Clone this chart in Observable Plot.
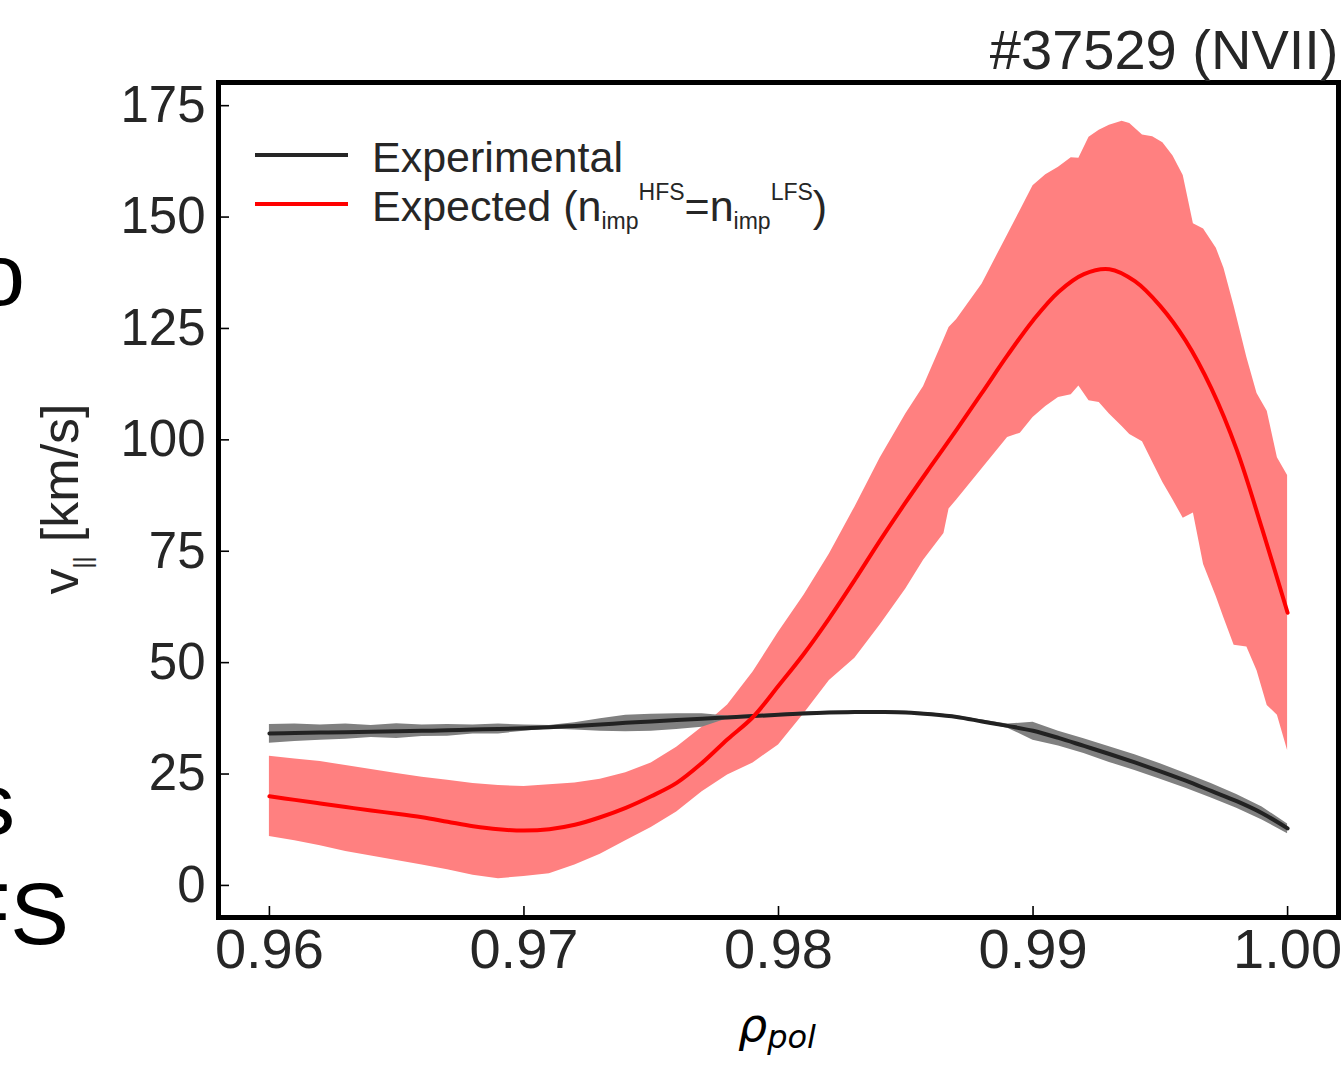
<!DOCTYPE html>
<html>
<head>
<meta charset="utf-8">
<script src="https://cdn.jsdelivr.net/npm/d3@7"></script>
<script src="https://cdn.jsdelivr.net/npm/@observablehq/plot@0.6"></script>
<style>
  html, body { margin: 0; padding: 0; background: #fff; overflow: hidden; }
  #chart { position: relative; width: 1343px; height: 1070px; overflow: hidden; }
</style>
</head>
<body>
<div id="chart"></div>
<script>
// ---------------- DATA ----------------
const titleText = "#37529 (NVII)";
const legendLabels = ["Experimental", "Expected"];
const xTicks = [0.96, 0.97, 0.98, 0.99, 1.00];
const yTicks = [0, 25, 50, 75, 100, 125, 150, 175];

// rho_pol grid for the mean curves
const rho = [0.960,0.961,0.962,0.963,0.964,0.965,0.966,0.967,0.968,0.969,
             0.970,0.971,0.972,0.973,0.974,0.975,0.976,0.977,0.978,0.979,
             0.980,0.981,0.982,0.983,0.984,0.985,0.986,0.987,0.988,0.989,
             0.990,0.991,0.992,0.993,0.994,0.995,0.996,0.997,0.998,0.999,1.000];

// Expected (n_imp^HFS = n_imp^LFS) mean [km/s]
const expectedV = [20.0,19.2,18.4,17.6,16.8,16.1,15.3,14.3,13.3,12.6,
                   12.3,12.6,13.6,15.3,17.4,20.0,23.0,27.5,32.8,37.8,
                   44.8,52.0,60.0,68.6,77.5,86.0,94.2,102.3,110.6,119.0,
                   126.8,133.2,137.2,138.3,135.6,130.0,122.2,111.6,97.8,80.0,61.2];

// Experimental mean [km/s]
const experimentalV = [34.1,34.2,34.3,34.4,34.5,34.6,34.7,34.8,35.0,35.1,
                       35.3,35.5,35.8,36.1,36.5,36.8,37.1,37.4,37.7,38.0,
                       38.3,38.6,38.8,38.9,38.9,38.8,38.4,37.8,36.8,35.8,
                       34.7,33.1,31.3,29.5,27.6,25.6,23.5,21.2,18.9,16.2,12.8];
// Experimental uncertainty band
const experimentalHi = [36.1,36.2,36.0,36.2,35.9,36.3,36.0,36.1,36.0,36.2,
                        36.0,35.9,36.5,37.4,38.2,38.4,38.5,38.5,38.0,38.3,
                        38.6,38.9,39.1,39.2,39.2,39.1,38.7,38.1,37.1,36.2,
                        36.6,34.6,32.9,31.1,29.3,27.3,25.1,22.9,20.4,17.6,13.8];
const experimentalLo = [31.9,32.3,32.6,32.8,33.2,33.0,33.4,33.5,34.0,34.0,
                        34.6,35.1,34.9,34.6,34.5,34.6,35.0,35.5,37.4,37.7,
                        38.0,38.3,38.5,38.6,38.6,38.5,38.1,37.5,36.5,35.3,
                        32.6,31.3,29.6,27.6,25.8,23.8,21.8,19.6,17.3,14.7,11.6];

// Expected uncertainty band (finer, irregular grid)
const rhoBand = [0.960,0.961,0.962,0.963,0.964,0.965,0.966,0.967,0.968,0.969,
                 0.970,0.971,0.972,0.973,0.974,0.975,0.976,0.977,0.978,0.979,
                 0.980,0.981,0.982,0.983,0.984,0.985,0.9857,0.9865,0.9867,0.987,
                 0.988,0.989,0.9895,0.990,0.9905,0.991,0.9915,0.9918,0.9922,0.9926,
                 0.993,0.9935,0.9938,0.9943,0.9947,0.9951,0.9955,0.9959,0.9963,0.9967,
                 0.9972,0.9975,0.9979,0.9984,0.9988,0.9992,0.9996,1.000];
const expectedHi = [29.0,28.4,27.8,26.9,26.0,25.1,24.3,23.6,22.9,22.4,
                    22.2,22.6,23.0,23.8,25.3,27.5,31.0,35.5,40.5,47.9,
                    56.8,65.1,74.4,84.9,96.0,105.8,112.0,122.5,125.2,127.0,
                    135.0,146.0,151.5,157.0,159.5,161.2,163.3,163.2,167.9,169.5,
                    170.6,171.5,171.0,168.4,168.0,166.7,163.7,159.3,148.5,147.3,
                    143.0,138.5,130.0,118.5,110.4,106.4,96.0,92.0];
const expectedLo = [11.0,10.0,8.9,7.6,6.6,5.6,4.6,3.5,2.3,1.5,
                    2.0,2.6,4.6,7.0,10.0,13.0,16.5,21.0,24.8,27.5,
                    31.5,38.5,46.0,51.0,58.5,66.5,73.0,79.0,84.5,86.5,
                    93.5,100.5,101.5,105.0,107.5,109.5,110.1,112.1,108.8,108.4,
                    105.8,103.0,101.2,99.6,95.0,90.4,86.5,82.4,83.6,72.0,
                    64.8,60.0,53.9,53.5,48.2,40.4,38.2,30.3];

// ---------------- BUILD ----------------
const W = 1343, H = 1070;
const mL = 218, mR = 5, mT = 82, mB = 153;
const innerW = W - mL - mR, innerH = H - mT - mB;
const FONT = "'Liberation Sans', Arial, Helvetica, sans-serif";
const TEXT = "#262626";
const TICKLEN = 11;

const expLine = rho.map((r, i) => ({rho: r, v: expectedV[i]}));
const exptLine = rho.map((r, i) => ({rho: r, v: experimentalV[i], hi: experimentalHi[i], lo: experimentalLo[i]}));
const expBand = rhoBand.map((r, i) => ({rho: r, hi: expectedHi[i], lo: expectedLo[i]}));

const svg = Plot.plot({
  width: W, height: H,
  marginLeft: mL, marginRight: mR, marginTop: mT, marginBottom: mB,
  style: {fontFamily: FONT, background: "#fff", color: TEXT},
  x: {domain: [0.958, 1.002], label: null},
  y: {domain: [-7.2, 180.2], label: null},
  marks: [
    Plot.areaY(expBand, {x: "rho", y1: "lo", y2: "hi", fill: "#ff8080", curve: "linear"}),
    Plot.areaY(exptLine, {x: "rho", y1: "lo", y2: "hi", fill: "#808080", curve: "linear"}),
    Plot.line(exptLine, {x: "rho", y: "v", stroke: "#222222", strokeWidth: 4, curve: "catmull-rom"}),
    Plot.line(expLine, {x: "rho", y: "v", stroke: "#ff0000", strokeWidth: 4, curve: "catmull-rom"}),
    Plot.ruleX(xTicks, {stroke: "#000", strokeWidth: 1.6, insetTop: innerH - TICKLEN}),
    Plot.ruleY(yTicks, {stroke: "#000", strokeWidth: 1.6, insetRight: innerW - TICKLEN}),
    Plot.axisX(xTicks, {anchor: "bottom", tickSize: 0, tickPadding: 11, fontSize: 56,
                        tickFormat: d => d.toFixed(2), color: TEXT}),
    Plot.axisY(yTicks, {anchor: "left", tickSize: 0, tickPadding: 13, fontSize: 51, color: TEXT}),
    Plot.frame({stroke: "#000", strokeWidth: 5}),
    Plot.text([titleText], {frameAnchor: "top-right", textAnchor: "end", lineAnchor: "bottom",
                            dy: -14, fontSize: 56, fill: TEXT})
  ]
});
document.getElementById("chart").appendChild(svg);

const s = d3.select(svg);

// legend
const lg = s.append("g").attr("font-family", FONT).attr("fill", TEXT).attr("text-anchor", "start");
lg.append("line").attr("x1", 255).attr("x2", 348).attr("y1", 155).attr("y2", 155)
  .attr("stroke", "#262626").attr("stroke-width", 4);
lg.append("line").attr("x1", 255).attr("x2", 348).attr("y1", 204).attr("y2", 204)
  .attr("stroke", "#ff0000").attr("stroke-width", 4);
lg.append("text").attr("x", 372).attr("y", 172).attr("font-size", 43).attr("text-anchor", "start").text(legendLabels[0]);
const t2 = lg.append("text").attr("x", 372).attr("y", 221).attr("font-size", 43).attr("text-anchor", "start");
t2.append("tspan").text(legendLabels[1] + " (n");
t2.append("tspan").attr("font-size", 23).attr("dy", 8).text("imp");
t2.append("tspan").attr("font-size", 23).attr("dy", -29).text("HFS");
t2.append("tspan").attr("dy", 21).text("=n");
t2.append("tspan").attr("font-size", 23).attr("dy", 8).text("imp");
t2.append("tspan").attr("font-size", 23).attr("dy", -29).text("LFS");
t2.append("tspan").attr("dy", 21).text(")");

// y label
const yl = s.append("text").attr("font-family", FONT).attr("fill", TEXT)
  .attr("font-size", 52).attr("text-anchor", "middle")
  .attr("transform", "translate(78,499) rotate(-90)");
yl.append("tspan").text("v");
yl.append("tspan").attr("font-size", 23).attr("dy", 13).text("||");
yl.append("tspan").attr("dy", -13).text(" [km/s]");

// x label
const xl = s.append("text").attr("font-family", "'DejaVu Sans', sans-serif").attr("font-style", "italic")
  .attr("fill", "#000").attr("font-size", 46).attr("text-anchor", "middle")
  .attr("x", 777).attr("y", 1041);
xl.append("tspan").text("ρ");
xl.append("tspan").attr("font-size", 32).attr("dy", 7).text("pol");

// fragments of the neighbouring panel's text, cut by the left edge (as in the reference)
const fr = s.append("g").attr("font-family", FONT).attr("fill", "#000").attr("font-size", 88)
  .attr("text-anchor", "end");
fr.append("text").attr("x", 25).attr("y", 305).text("o");
fr.append("text").attr("x", 15).attr("y", 834).text("s");
fr.append("text").attr("x", 69).attr("y", 944).text("FS");
</script>
</body>
</html>
